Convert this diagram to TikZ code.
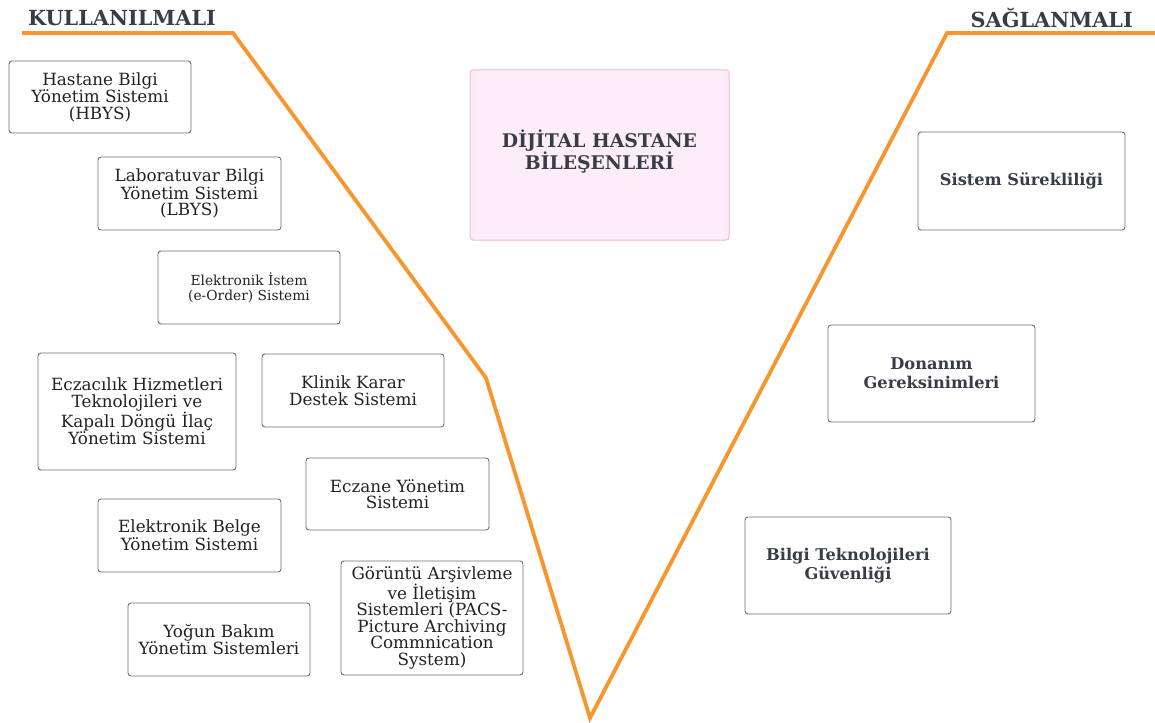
\documentclass[tikz,border=0pt]{standalone}
\usepackage{fontspec}
\setmainfont{DejaVu Serif}
\definecolor{vline}{HTML}{F7962E}
\definecolor{boxline}{HTML}{6A6F77}
\definecolor{txt}{HTML}{222222}
\definecolor{head}{HTML}{373D48}
\definecolor{pinkfill}{HTML}{FDEDF8}
\definecolor{pinkline}{HTML}{F6B8D4}
\begin{document}
\begin{tikzpicture}[x=1pt,y=-1pt,
  item/.style={draw=boxline,line width=0.9pt,rounded corners=3pt,align=center,
    text=txt,font=\fontsize{16.8}{16.5}\selectfont,inner sep=0pt},
  ritem/.style={item,text=head,font=\bfseries\fontsize{16.2}{19}\selectfont},
  title/.style={text=head,font=\bfseries\fontsize{20.8}{22}\selectfont,inner sep=0pt}]
\useasboundingbox (0,0) rectangle (1155,722);
\draw[vline,line width=3.8pt,line join=miter] (22,33) -- (233,33) -- (486,378) -- (590,718) -- (947,33) -- (1155,33);
\node[title,anchor=west] (kul) at (28,18) {KULLANILMALI};
\node[title,anchor=east] (sag) at (1133,18) {SAĞLANMALI};
\node[item,minimum width=182pt,minimum height=72pt] (hbys) at (100,97) {Hastane Bilgi\\Yönetim Sistemi\\(HBYS)};
\node[item,minimum width=183pt,minimum height=73pt] (lbys) at (189.5,193.5) {Laboratuvar Bilgi\\Yönetim Sistemi\\(LBYS)};
\node[item,minimum width=182pt,minimum height=73pt,font=\fontsize{13.8}{14.5}\selectfont] (eorder) at (249,287.5) {Elektronik İstem\\(e-Order) Sistemi};
\node[item,minimum width=198pt,minimum height=117pt] (eczacilik) at (137,411.5) {Eczacılık Hizmetleri\\Teknolojileri ve\\Kapalı Döngü İlaç\\Yönetim Sistemi};
\node[item,minimum width=182pt,minimum height=73pt] (klinik) at (353,390.5) {Klinik Karar\\Destek Sistemi};
\node[item,minimum width=183pt,minimum height=72pt] (eczane) at (397.5,494) {Eczane Yönetim\\Sistemi};
\node[item,minimum width=183pt,minimum height=73pt] (belge) at (189.5,535.5) {Elektronik Belge\\Yönetim Sistemi};
\node[item,minimum width=182pt,minimum height=73pt] (yogun) at (219,639.5) {Yoğun Bakım\\Yönetim Sistemleri};
\node[item,minimum width=182pt,minimum height=114pt] (pacs) at (432,618) {Görüntü Arşivleme\\ve İletişim\\Sistemleri (PACS-\\Picture Archiving\\Commnication\\System)};
\node[draw=pinkline,fill=pinkfill,line width=1pt,rounded corners=3pt,minimum width=259pt,minimum height=170pt,inner sep=0pt] (dijital) at (599.5,155) {};
\node[align=center,text=head,inner sep=0pt,font=\bfseries\fontsize{18.8}{22}\selectfont] (dijitaltxt) at (599.5,151.5) {DİJİTAL HASTANE\\BİLEŞENLERİ};
\node[ritem,minimum width=207pt,minimum height=98pt] (surek) at (1021.5,181) {Sistem Sürekliliği};
\node[ritem,minimum width=207pt,minimum height=97pt] (donanim) at (931.5,373.5) {Donanım\\Gereksinimleri};
\node[ritem,minimum width=206pt,minimum height=97pt] (guvenlik) at (848,565.5) {Bilgi Teknolojileri\\Güvenliği};
\end{tikzpicture}
\end{document}
